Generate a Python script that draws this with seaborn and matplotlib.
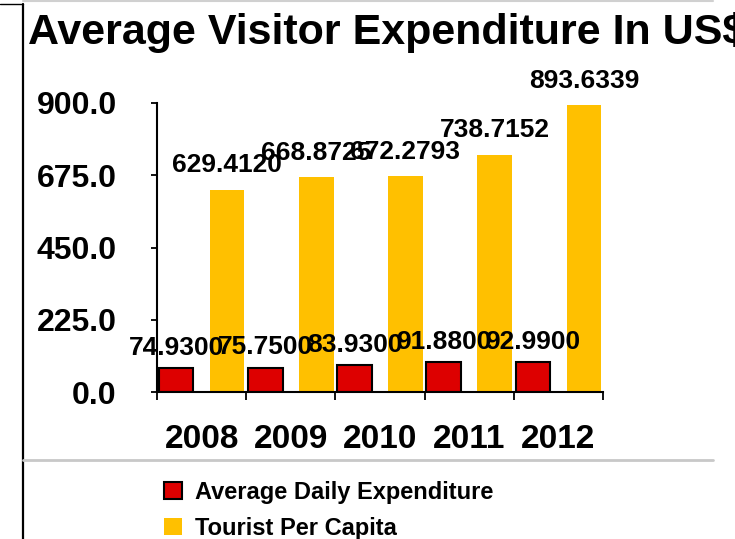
# Average visitor expenditure chart

import numpy as np
import pandas as pd
import matplotlib
matplotlib.use("Agg")
import matplotlib.pyplot as plt
import seaborn as sns
from matplotlib.lines import Line2D
from matplotlib.patches import Patch
from matplotlib.ticker import FormatStrFormatter

# ---------------- data ----------------
years = ["2008", "2009", "2010", "2011", "2012"]
daily_exp = [74.93, 75.75, 83.93, 91.88, 92.99]
per_capita = [629.4120, 668.8725, 672.2793, 738.7152, 893.6339]
series = ["Average Daily Expenditure", "Tourist Per Capita"]
colors = ["#DD0000", "#FFC000"]
y_ticks = [0, 225, 450, 675, 900]

df = pd.DataFrame({
    "Year": years * 2,
    "Value": daily_exp + per_capita,
    "Series": [series[0]] * len(years) + [series[1]] * len(years),
})

# ---------------- style ----------------
sns.set_style("white")
plt.rcParams["font.family"] = ["Liberation Sans", "DejaVu Sans"]
plt.rcParams["font.weight"] = "bold"
plt.rcParams["text.color"] = "black"
plt.rcParams["xtick.color"] = "black"
plt.rcParams["ytick.color"] = "black"

fig = plt.figure(figsize=(7.35, 5.39), dpi=100)
ax = fig.add_axes([157 / 735, 147 / 539, 446 / 735, 289 / 539])

sns.barplot(data=df, x="Year", y="Value", hue="Series", palette=colors,
            width=1.14, gap=0.32, saturation=1, ax=ax, legend=False)

# red bars get a black outline
for p in ax.containers[0]:
    p.set_edgecolor("black")
    p.set_linewidth(1.5)
for p in ax.containers[1]:
    p.set_linewidth(0)

ax.bar_label(ax.containers[0], labels=[f"{v:.4f}" for v in daily_exp],
             padding=6, fontsize=19, fontweight="bold", color="black")
ax.bar_label(ax.containers[1], labels=[f"{v:.4f}" for v in per_capita],
             padding=9, fontsize=19, fontweight="bold", color="black")

# ---------------- axes ----------------
ax.set_ylim(0, 900)
ax.set_yticks(y_ticks)
ax.yaxis.set_major_formatter(FormatStrFormatter("%.1f"))
ax.set_xlim(-0.5, len(years) - 0.5)
ax.set_xticks(np.arange(-0.5, len(years), 1), minor=True)
ax.set_xlabel("")
ax.set_ylabel("")

ax.tick_params(axis="y", left=True, direction="out", length=4, width=1.3,
               pad=25, labelsize=23, colors="black")
ax.tick_params(axis="x", which="major", bottom=True, length=0, pad=23,
               labelsize=24, colors="black")
ax.tick_params(axis="x", which="minor", bottom=True, direction="out",
               length=6, width=1.3, color="black")

sns.despine(ax=ax)
for s in ["left", "bottom"]:
    ax.spines[s].set_color("black")
    ax.spines[s].set_linewidth(1.5)

# ---------------- title / frame lines ----------------
fig.text(28 / 735, 1 - 44 / 539, "Average Visitor Expenditure In US$",
         fontsize=31, fontweight="bold", va="baseline", ha="left",
         color="black")

fig.add_artist(Line2D([23 / 735, 23 / 735], [0, 1 - 4 / 539],
                      transform=fig.transFigure, color="black", lw=1.6))
fig.add_artist(Line2D([0, 23 / 735], [1 - 4 / 539, 1 - 4 / 539],
                      transform=fig.transFigure, color="black", lw=1.0))
fig.add_artist(Line2D([23 / 735, 713 / 735], [1 - 1 / 539, 1 - 1 / 539],
                      transform=fig.transFigure, color="#d0d0d0", lw=1.5))
fig.add_artist(Line2D([23 / 735, 713 / 735], [1 - 460 / 539, 1 - 460 / 539],
                      transform=fig.transFigure, color="#c8c8c8", lw=2))

# ---------------- legend ----------------
handles = [Patch(facecolor=colors[0], edgecolor="black", linewidth=1.5),
           Patch(facecolor=colors[1], edgecolor="none")]
fig.legend(handles, series, loc="upper left",
           bbox_to_anchor=(164 / 735, 1 - 481 / 539), frameon=False,
           fontsize=17, handlelength=0.75, handleheight=0.75,
           handletextpad=0.55, labelspacing=0.55, borderpad=0,
           borderaxespad=0, labelcolor="black")

fig.savefig("out.png", dpi=100)
